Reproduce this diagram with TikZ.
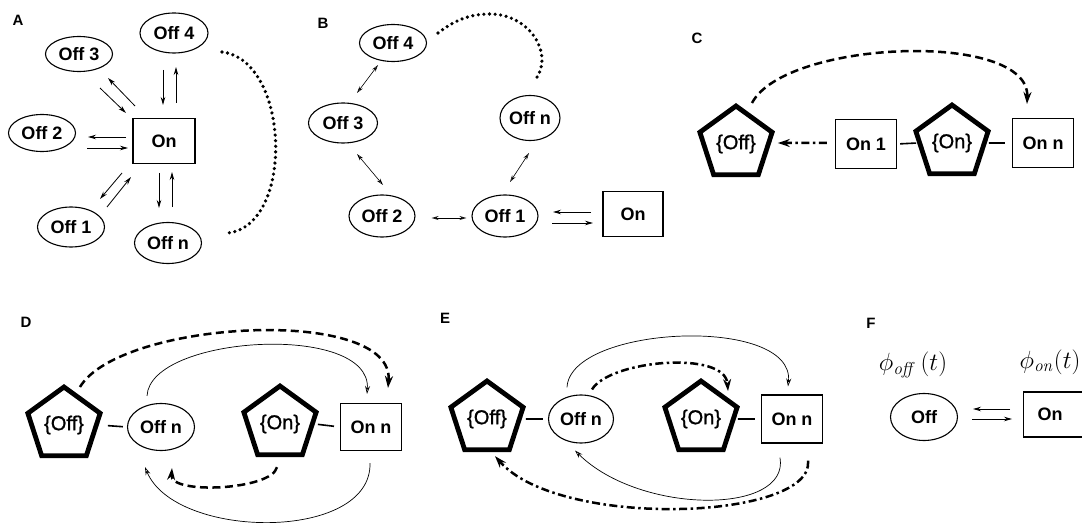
\documentclass[tikz,border=0pt]{standalone}
\usepackage[no-math]{fontspec}
\setmainfont{Liberation Sans}
\newfontfamily\pentfont{Liberation Sans}[FakeBold=1.2]
\usetikzlibrary{shapes.geometric,arrows.meta,calc}
\begin{document}
\begin{tikzpicture}[x=1pt,y=-1pt,
  ell/.style={draw, ellipse, line width=1.1pt, inner sep=0pt, minimum width=67pt, minimum height=40pt, font=\fontsize{18}{20}\selectfont\bfseries},
  sq/.style={draw, rectangle, line width=1.1pt, inner sep=0pt, minimum width=61pt, minimum height=47pt, font=\fontsize{18}{20}\selectfont\bfseries},
  pent/.style={draw, regular polygon, regular polygon sides=5, line width=4.8pt, line join=miter, inner sep=0pt, minimum size=76pt, font=\fontsize{20}{22}\pentfont},
  lbl/.style={font=\fontsize{15}{17}\selectfont\bfseries},
  phi/.style={font=\fontsize{26}{28}\selectfont},
  arr/.style={line width=0.8pt, -{Stealth[length=8pt,width=4.5pt]}},
  dbl/.style={line width=0.6pt, {Stealth[open,length=7pt,width=4pt]}-{Stealth[open,length=7pt,width=4pt]}},
  thinarc/.style={line width=0.7pt, -{Stealth[open,length=8pt,width=5pt]}},
  dashedarc/.style={line width=2.5pt, dash pattern=on 8pt off 4.5pt, -{Stealth[length=12pt,width=8pt]}},
  dashdotarc/.style={line width=2.5pt, dash pattern=on 8pt off 3.5pt on 2.5pt off 3.5pt, -{Stealth[length=12pt,width=8pt]}},
  dotarc/.style={line width=3.6pt, line cap=round, dash pattern=on 0pt off 5.6pt},
  link/.style={line width=1.6pt}]
\useasboundingbox (0,0) rectangle (1082,524);
\clip (0,0) rectangle (1082,524);
\fill[white] (0,0) rectangle (1082,524);

% ---------------- A ----------------
\node[lbl] (la) at (18,20) {A};
\node[ell, minimum width=68pt] (off4A) at (174,33) {Off 4};
\node[ell, minimum height=35pt] (off3A) at (79,54) {Off 3};
\node[ell, minimum height=37pt] (off2A) at (42,133) {Off 2};
\node[sq, minimum width=62pt, minimum height=45pt] (onA) at (164,141) {On};
\node[ell] (off1A) at (71,227) {Off 1};
\node[ell, minimum height=41pt] (offnA) at (168,243) {Off n};
\draw[arr] ($(onA)+(-1,-71)$) -- ($(onA)+(-1,-36)$);
\draw[arr] ($(onA)+(12,-38)$) -- ($(onA)+(12,-74)$);
\draw[arr] ($(onA)+(-64,-53)$) -- ($(onA)+(-38,-28)$);
\draw[arr] ($(onA)+(-29,-35)$) -- ($(onA)+(-56,-63)$);
\draw[arr] ($(onA)+(-38,-4)$) -- ($(onA)+(-76,-4)$);
\draw[arr] ($(onA)+(-77,7)$) -- ($(onA)+(-36,7)$);
\draw[arr] ($(onA)+(-42,32)$) -- ($(onA)+(-64,58)$);
\draw[arr] ($(onA)+(-57,66)$) -- ($(onA)+(-33,36)$);
\draw[arr] ($(onA)+(-5,32)$) -- ($(onA)+(-5,67)$);
\draw[arr] ($(onA)+(8,66)$) -- ($(onA)+(8,31)$);
\coordinate (dA1) at (222,52);
\coordinate (dA2) at (228,233);
\draw[dotarc] (dA1) .. controls (290,60) and (295,225) .. (dA2);

% ---------------- B ----------------
\node[lbl] (lb) at (323,23) {B};
\node[ell, minimum height=37pt] (off4B) at (393,43) {Off 4};
\node[ell, minimum width=69pt] (off3B) at (343,123) {Off 3};
\node[ell, minimum width=60pt, minimum height=45pt] (offnB) at (530,118) {Off n};
\node[ell, minimum width=66pt, minimum height=42pt] (off2B) at (382,216) {Off 2};
\node[ell, minimum width=66pt, minimum height=42pt] (off1B) at (505,216) {Off 1};
\node[sq, minimum width=60pt, minimum height=45pt] (onB) at (633,214) {On};
\draw[dbl] ($(off4B)+(-15,22)$) -- ($(off3B)+(14,-30)$);
\draw[dbl] ($(off3B)+(14,31)$) -- ($(off2B)+(1,-31)$);
\draw[dbl] ($(off2B.east)+(16,2)$) -- ($(off1B.west)+(-5,2)$);
\draw[dbl] ($(off1B)+(5,-34)$) -- ($(offnB)+(-1,35)$);
\draw[arr] ($(onB)+(-42,-2)$) -- ($(onB)+(-80,-2)$);
\draw[arr] ($(onB)+(-81,9)$) -- ($(onB)+(-40,9)$);
\coordinate (dB1) at (438,33);
\coordinate (dB2) at (535,80);
\draw[dotarc] (dB1) .. controls (455,20) and (470,14) .. (490,14) .. controls (530,14) and (555,55) .. (dB2);

% ---------------- C ----------------
\node[lbl] (lc) at (697,38) {C};
\node[pent] (offC) at (736,144) {\{Off\}};
\node[sq, minimum height=49pt] (on1C) at (866,144) {On 1};
\node[pent] (onC) at (952,143) {\{On\}};
\node[sq, minimum height=49pt] (onnC) at (1043,143) {On n};
\draw[link, shorten <=3pt, shorten >=1pt] (on1C.east) -- (onC.west);
\draw[link, shorten <=2pt, shorten >=7pt] (onC.east) -- (onnC.west);
\draw[dashdotarc] ($(on1C.west)+(-8,-1)$) -- ($(offC.east)+(7,-1)$);
\draw[dashedarc] ($(offC)+(16,-41)$) .. controls (785,40) and (1030,30) .. ($(onnC.north)+(-16,-14)$);

% ---------------- D ----------------
\node[lbl] (ld) at (26,322) {D};
\node[pent] (offD) at (64,425) {\{Off\}};
\node[ell, minimum height=47pt] (offnD) at (161,427) {Off n};
\node[pent] (onD) at (280,424) {\{On\}};
\node[sq] (onnD) at (371,427) {On n};
\draw[link, shorten <=9pt, shorten >=4pt] (offD.east) -- (offnD.west);
\draw[link, shorten <=3pt, shorten >=6pt] (onD.east) -- (onnD.west);
\draw[dashedarc] ($(offD)+(16,-38)$) .. controls (120,320) and (395,305) .. ($(onnD.north)+(17,-15)$);
\draw[thinarc] ($(offnD.north)+(-14,-7)$) .. controls (150,335) and (372,322) .. ($(onnD.north)+(-4,-9)$);
\draw[dashedarc] ($(onD.south)+(-3,10)$) .. controls (272,490) and (170,495) .. ($(offnD.south)+(11,17)$);
\draw[thinarc] ($(onnD.south)+(-1,12)$) .. controls (372,542) and (175,540) .. ($(offnD.south)+(-16,16)$);

% ---------------- E ----------------
\node[lbl] (le) at (445,318) {E};
\node[pent] (offE) at (487,419) {\{Off\}};
\node[ell, minimum width=65pt, minimum height=48pt] (offnE) at (581,419) {Off n};
\node[pent] (onE) at (701,419) {\{On\}};
\node[sq, minimum height=48pt] (onnE) at (792,419) {On n};
\draw[link, shorten <=4pt, shorten >=5pt] (offE.east) -- (offnE.west);
\draw[link, shorten <=2pt, shorten >=6pt] (onE.east) -- (onnE.west);
\draw[thinarc] ($(offnE.north)+(-14,-7)$) .. controls (570,325) and (795,315) .. ($(onnE.north)+(-4,-8)$);
\draw[dashdotarc] ($(offnE.north)+(11,-5)$) .. controls (610,360) and (725,350) .. ($(onE.north)+(27,13)$);
\draw[thinarc] ($(onnE.south)+(-12,14)$) .. controls (790,515) and (640,515) .. ($(offnE.south)+(-6,7)$);
\draw[dashdotarc] ($(onnE.south east)+(-15,17)$) .. controls (815,520) and (560,530) .. ($(offE.south)+(8,4)$);

% ---------------- F ----------------
\node[lbl] (lf) at (871,323) {F};
\node[phi] (phioff) at (913,365) {$\phi_{\mathit{off}}\,(t)$};
\node[phi] (phion) at (1050,362) {$\phi_{\mathit{on}}(t)$};
\node[ell, minimum height=47pt] (offF) at (924,417) {Off};
\node[sq, anchor=west, minimum width=80pt, minimum height=45pt, text width=52pt, align=left, inner xsep=14pt] (onF) at (1023,414.5) {On};
\draw[arr] ($(onF.west)+(-13,-5.5)$) -- ($(onF.west)+(-50,-5.5)$);
\draw[arr] ($(onF.west)+(-51,4.5)$) -- ($(onF.west)+(-11,4.5)$);
\end{tikzpicture}
\end{document}
